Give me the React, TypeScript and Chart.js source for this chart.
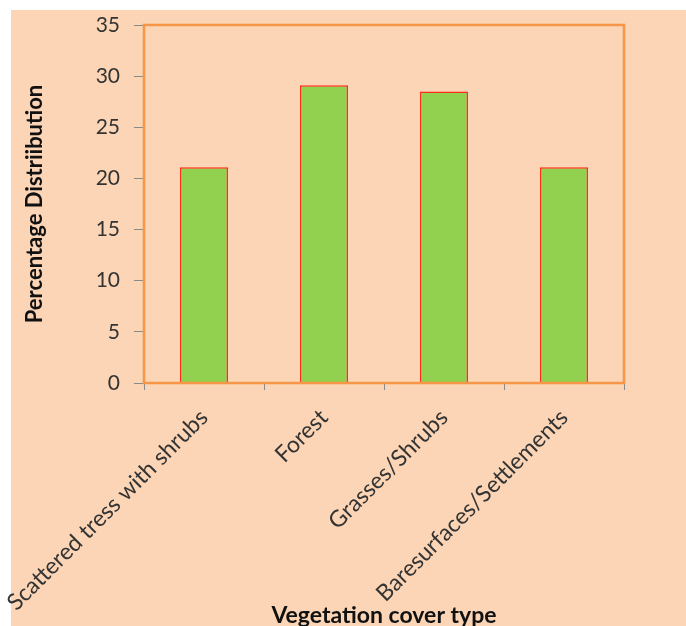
import React, { useEffect, useRef } from "react";
import { Chart, registerables } from "chart.js";

Chart.register(...registerables);

const categories = [
  "Scattered tress with shrubs",
  "Forest",
  "Grasses/Shrubs",
  "Baresurfaces/Settlements",
];
const percentages = [21.1, 29.1, 28.5, 21.1];
const yTicks = [0, 5, 10, 15, 20, 25, 30, 35];
const xTitle = "Vegetation cover type";
const yTitle = "Percentage Distriibution";

const FONT = "Lato, 'Open Sans', sans-serif";
const ORANGE = "#F79646";

const frame = {
  id: "frame",
  afterDatasetsDraw(chart: any) {
    const { ctx, chartArea } = chart;
    ctx.save();
    ctx.strokeStyle = ORANGE;
    ctx.lineWidth = 2.5;
    ctx.strokeRect(chartArea.left, chartArea.top, chartArea.right - chartArea.left, chartArea.bottom - chartArea.top);
    ctx.restore();
  },
};

export default function App() {
  const ref = useRef<HTMLCanvasElement>(null);
  useEffect(() => {
    const chart = new Chart(ref.current!, {
      type: "bar",
      data: {
        labels: categories,
        datasets: [
          {
            data: percentages,
            backgroundColor: "#92D050",
            borderColor: "#FF2A1A",
            borderWidth: 1.5,
            barPercentage: 0.4,
            categoryPercentage: 1,
          },
        ],
      },
      options: {
        responsive: false,
        animation: false,
        layout: { padding: { left: 0, top: 25, right: 62, bottom: 0 } },
        plugins: { legend: { display: false }, tooltip: { enabled: false } },
        scales: {
          x: {
            offset: true,
            grid: { offset: true, drawOnChartArea: false, tickLength: 7, color: "#8a8a8a", lineWidth: 1 },
            border: { display: false },
            ticks: {
              minRotation: 45,
              maxRotation: 45,
              padding: 14,
              color: "#333",
              font: { family: FONT, size: 23 },
            },
            title: {
              display: true,
              text: xTitle,
              color: "#111",
              font: { family: FONT, size: 23, weight: "bold" },
              padding: { top: 0, bottom: -3 },
            },
            afterFit(scale: any) {
              scale.height = 243;
              scale.paddingLeft = 0;
              scale.paddingRight = 0;
            },
          },
          y: {
            min: 0,
            max: 35,
            afterBuildTicks(scale: any) {
              scale.ticks = yTicks.map((v) => ({ value: v }));
            },
            grid: { drawOnChartArea: false, tickLength: 10, color: "#8a8a8a", lineWidth: 1 },
            border: { display: false },
            ticks: {
              padding: 14,
              color: "#333",
              font: { family: FONT, size: 21 },
            },
            title: {
              display: true,
              text: yTitle,
              color: "#111",
              font: { family: FONT, size: 22, weight: "bold" },
              padding: { top: 22, bottom: 0 },
            },
            afterFit(scale: any) {
              scale.width = 144;
              scale.paddingTop = 0;
              scale.paddingBottom = 0;
            },
          },
        },
      },
      plugins: [frame],
    });
    return () => chart.destroy();
  }, []);

  return (
    <div style={{ position: "absolute", left: 0, top: 0, width: 686, height: 626, background: "#fff", overflow: "hidden" }}>
      <div style={{ position: "absolute", left: 11, top: 10, right: 0, bottom: 0, background: "#FBD5B5" }} />
      <canvas ref={ref} width={686} height={626} style={{ position: "absolute", left: 0, top: 0 }} />
    </div>
  );
}
